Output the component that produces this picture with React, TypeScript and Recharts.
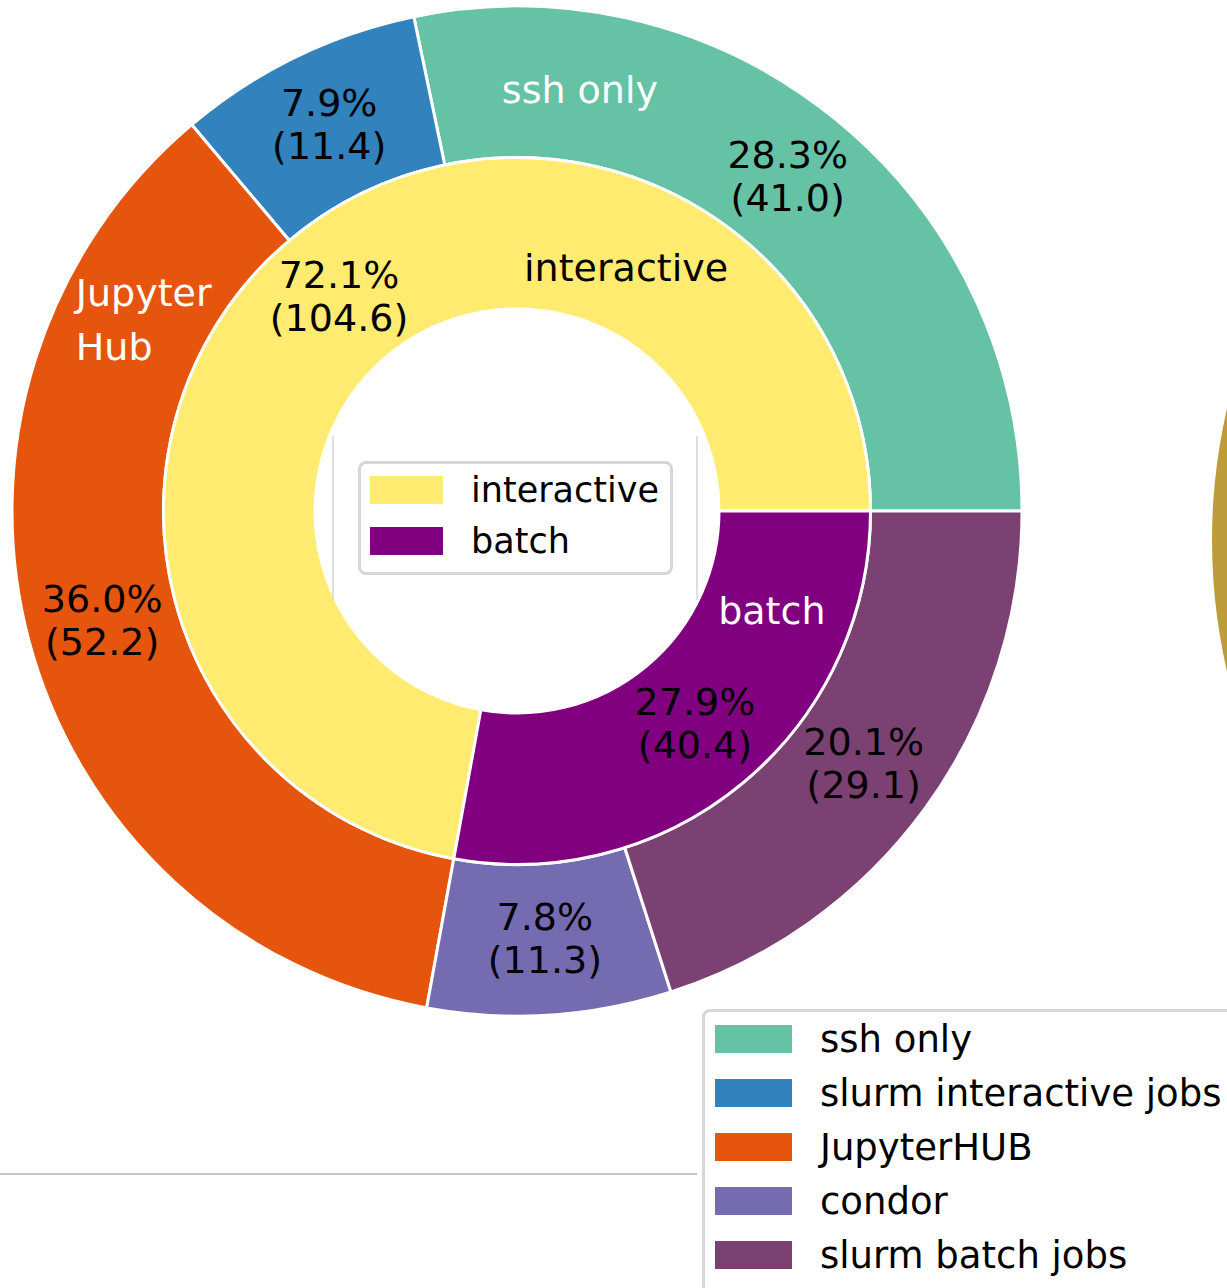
import React from "react";
import { PieChart, Pie, Cell } from "recharts";

// outer ring: how the sessions were started
const outerNames = ["ssh only", "slurm interactive jobs", "JupyterHUB", "condor", "slurm batch jobs"];
const outerValues = [41.0, 11.4, 52.2, 11.3, 29.1];
const outerColors = ["#66c2a5", "#3182bd", "#e6550d", "#756bb1", "#7b4173"];

// inner ring: interactive vs batch
const innerNames = ["interactive", "batch"];
const innerValues = [104.6, 40.4];
const innerColors = ["#ffeb6f", "#800080"];

// neighbouring chart, cut off at the right edge
const sideNames = ["other"];
const sideValues = [1];
const sideColors = ["#bf9c3a"];

const outerData = outerNames.map((name, i) => ({ name, value: outerValues[i] }));
const innerData = innerNames.map((name, i) => ({ name, value: innerValues[i] }));
const sideData = sideNames.map((name, i) => ({ name, value: sideValues[i] }));

// ring label text drawn in some wedges (angle in deg, radius as part of the outer radius)
const nameLabels: Record<
  string,
  { lines: string[]; angle: number; r: number; color: string; align?: "start"; lh?: number }
> = {
  "ssh only": { lines: ["ssh only"], angle: 81.5, r: 0.843, color: "#ffffff" },
  JupyterHUB: { lines: ["Jupyter", "Hub"], angle: 152.7, r: 0.825, color: "#ffffff", align: "start", lh: 54 },
  interactive: { lines: ["interactive"], angle: 65.8, r: 0.527, color: "#000000" },
  batch: { lines: ["batch"], angle: -21.4, r: 0.542, color: "#ffffff" },
};

const W = 1227;
const H = 1288;
const CX = 517;
const CY = 511;
const R = 505;
const FONT = "'DejaVu Sans', sans-serif";
const FS = 38;
const LH = 43;
const RADIAN = Math.PI / 180;

function renderLabel(props: any) {
  const { cx, cy, midAngle, innerRadius, outerRadius, percent, value } = props;
  const name = props.payload?.name ?? props.name;
  const mid = (innerRadius + outerRadius) / 2;
  const x = cx + mid * Math.cos(-midAngle * RADIAN);
  const y = cy + mid * Math.sin(-midAngle * RADIAN) - 1;
  const nl = nameLabels[name];
  let nameEl = null;
  if (nl) {
    const lh = nl.lh ?? LH;
    const nx = cx + nl.r * R * Math.cos(-nl.angle * RADIAN);
    const ny = cy + nl.r * R * Math.sin(-nl.angle * RADIAN);
    const y0 = ny - ((nl.lines.length - 1) * lh) / 2;
    const tx = nl.align === "start" ? nx - 71 : nx;
    nameEl = (
      <text
        x={tx}
        y={y0}
        fill={nl.color}
        fontSize={FS}
        fontFamily={FONT}
        textAnchor={nl.align === "start" ? "start" : "middle"}
        dominantBaseline="central"
      >
        {nl.lines.map((ln, i) => (
          <tspan key={i} x={tx} y={y0 + i * lh}>
            {ln}
          </tspan>
        ))}
      </text>
    );
  }
  return (
    <g>
      {nameEl}
      <text
        x={x}
        y={y}
        fill="#000"
        fontSize={FS}
        fontFamily={FONT}
        textAnchor="middle"
        dominantBaseline="central"
      >
        <tspan x={x} y={y - LH / 2}>{`${(percent * 100).toFixed(1)}%`}</tspan>
        <tspan x={x} y={y + LH / 2}>{`(${value.toFixed(1)})`}</tspan>
      </text>
    </g>
  );
}

function LegendBox({
  names,
  colors,
  style,
  fontSize,
  swatchW,
  rowH,
}: {
  names: string[];
  colors: string[];
  style: React.CSSProperties;
  fontSize: number;
  swatchW: number;
  rowH: number;
}) {
  return (
    <div
      style={{
        position: "absolute",
        background: "#fff",
        border: "3px solid #d6d6d6",
        borderRadius: 8,
        boxSizing: "border-box",
        fontFamily: FONT,
        fontSize,
        color: "#000",
        ...style,
      }}
    >
      {names.map((n, i) => (
        <div key={n} style={{ display: "flex", alignItems: "center", height: rowH, whiteSpace: "nowrap" }}>
          <span style={{ display: "inline-block", width: swatchW, height: 28, background: colors[i], marginRight: 28 }} />
          <span>{n}</span>
        </div>
      ))}
    </div>
  );
}

export default function App() {
  return (
    <div style={{ position: "absolute", left: 0, top: 0, width: W, height: H, overflow: "hidden", background: "#fff" }}>
      <PieChart width={W} height={H} margin={{ top: 0, right: 0, bottom: 0, left: 0 }}>
        <Pie
          data={sideData}
          dataKey="value"
          cx={1796}
          cy={540}
          outerRadius={584}
          innerRadius={0}
          startAngle={0}
          endAngle={360}
          stroke="none"
          isAnimationActive={false}
        >
          {sideData.map((d, i) => (
            <Cell key={d.name} fill={sideColors[i]} />
          ))}
        </Pie>
        <Pie
          data={outerData}
          dataKey="value"
          cx={CX}
          cy={CY}
          outerRadius={R}
          innerRadius={R * 0.7}
          startAngle={0}
          endAngle={360}
          stroke="#fff"
          strokeWidth={3}
          label={renderLabel}
          labelLine={false}
          isAnimationActive={false}
        >
          {outerData.map((d, i) => (
            <Cell key={d.name} fill={outerColors[i]} />
          ))}
        </Pie>
        <Pie
          data={innerData}
          dataKey="value"
          cx={CX}
          cy={CY}
          outerRadius={R * 0.7}
          innerRadius={R * 0.4}
          startAngle={0}
          endAngle={360}
          stroke="#fff"
          strokeWidth={3}
          label={renderLabel}
          labelLine={false}
          isAnimationActive={false}
        >
          {innerData.map((d, i) => (
            <Cell key={d.name} fill={innerColors[i]} />
          ))}
        </Pie>
      </PieChart>

      {/* stray frame lines left over from the figure */}
      <svg width={W} height={H} style={{ position: "absolute", left: 0, top: 0, pointerEvents: "none" }}>
        <line x1={333} y1={436} x2={333} y2={600} stroke="#d4d4d4" strokeWidth={1.5} />
        <line x1={697} y1={436} x2={697} y2={600} stroke="#d4d4d4" strokeWidth={1.5} />
        <line x1={0} y1={1174} x2={697} y2={1174} stroke="#c6c6c6" strokeWidth={2} />
      </svg>

      <LegendBox
        names={innerNames}
        colors={innerColors}
        fontSize={35}
        swatchW={73}
        rowH={51}
        style={{ left: 358, top: 461, width: 315, height: 114, padding: "0 0 0 9px" }}
      />
      <LegendBox
        names={outerNames}
        colors={outerColors}
        fontSize={37}
        swatchW={77}
        rowH={54}
        style={{ left: 702, top: 1009, width: 560, height: 300, padding: "0 0 0 10px" }}
      />
    </div>
  );
}
